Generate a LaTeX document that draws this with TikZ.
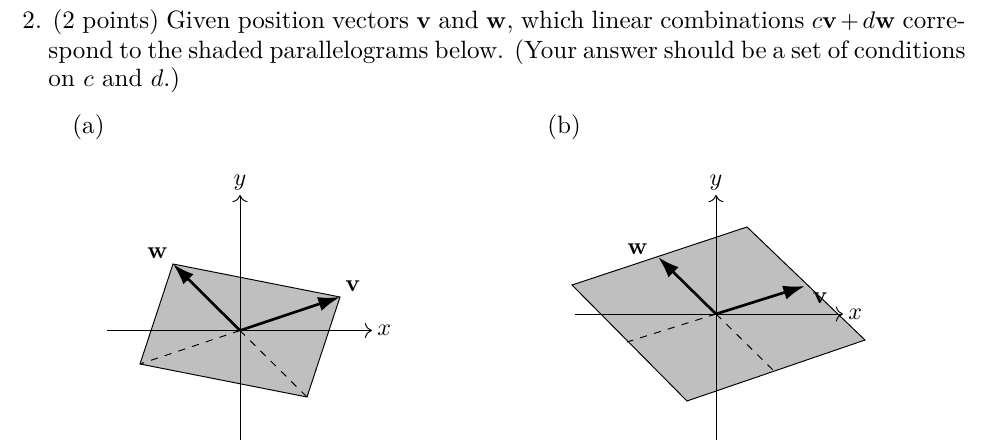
\documentclass[tikz,border=0pt]{standalone}
\usetikzlibrary{arrows.meta}
\begin{document}
\begin{tikzpicture}[x=0.415pt,y=-0.415pt,
  axis/.style={thin,-{To[length=3pt]}},
  vec/.style={line width=1.1pt,-{Latex[length=9pt,width=6pt]}},
  dsh/.style={thin,dashed},
  para/.style={fill=gray!50,draw=black,thin},
  txt/.style={inner sep=0pt,anchor=west,font=\fontsize{10.4}{12}\selectfont}]
\useasboundingbox (0,0) rectangle (988,442);
% text
\node[txt,text width=943*0.415pt,align=justify] (l1) at (22,22) {\parfillskip=0pt 2. (2 points) Given position vectors $\mathbf{v}$ and $\mathbf{w}$, which linear combinations $c\mathbf{v}+d\mathbf{w}$ corre-};
\node[txt,text width=917*0.415pt,align=justify] (l2) at (48,52) {\parfillskip=0pt spond to the shaded parallelograms below. (Your answer should be a set of conditions};
\node[txt] (l3) at (48,80) {on $c$ and $d$.)};
\node[txt] (la) at (72,127) {(a)};
\node[txt] (lb) at (547,127) {(b)};
% panel a
\coordinate (oa) at (240,330.5);
\coordinate (va) at (340,297);
\coordinate (wa) at (173,264);
\coordinate (nva) at (140,364);
\coordinate (nwa) at (307,397);
\draw[para] (wa) -- (va) -- (nwa) -- (nva) -- cycle;
\draw[axis] (107,330.5) -- (372,330.5) node[right,inner sep=2pt] (xa) {$x$};
\draw[axis] (240,440) -- (240,195) node[above,inner sep=2pt] (ya) {$y$};
\draw[dsh] (oa) -- (nva);
\draw[dsh] (oa) -- (nwa);
\draw[vec] (oa) -- (va);
\draw[vec] (oa) -- (wa);
\node[above right,inner sep=2pt] (lva) at (va) {$\mathbf{v}$};
\node[above left,inner sep=2pt] (lwa) at (wa) {$\mathbf{w}$};
% panel b
\coordinate (ob) at (716,314);
\coordinate (vb) at (805,286);
\coordinate (wb) at (658,257);
\coordinate (nvb) at (627,342);
\coordinate (nwb) at (774,371);
\draw[para] (572,285) -- (747,227) -- (865,340) -- (687,401) -- cycle;
\draw[axis] (575,314) -- (843,314) node[right,inner sep=2pt] (xb) {$x$};
\draw[axis] (716,440) -- (716,195) node[above,inner sep=2pt] (yb) {$y$};
\draw[dsh] (ob) -- (nvb);
\draw[dsh] (ob) -- (nwb);
\draw[vec] (ob) -- (vb);
\draw[vec] (ob) -- (wb);
\node[right,inner sep=3pt] (lvb) at ([yshift=-5]vb) {$\mathbf{v}$};
\node[above left,inner sep=1pt] (lwb) at ([xshift=-3]wb) {$\mathbf{w}$};
\end{tikzpicture}
\end{document}
